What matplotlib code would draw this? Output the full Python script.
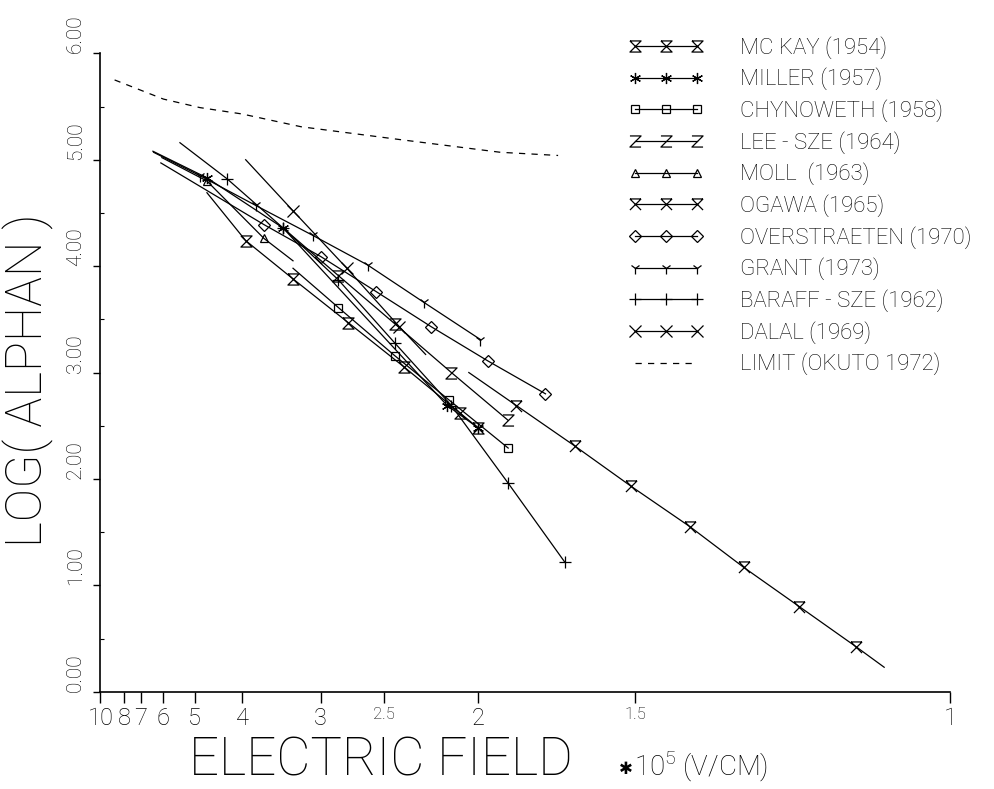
import numpy as np
import matplotlib
matplotlib.use("Agg")
import matplotlib.pyplot as plt
from matplotlib.path import Path

plt.rcParams['font.family'] = ['Roboto', 'DejaVu Sans']
plt.rcParams['font.weight'] = 'light'
plt.rcParams['mathtext.fontset'] = 'custom'
plt.rcParams['mathtext.rm'] = 'Roboto:light'

# field in 1e5 V/cm, log10 of ionization coefficient
mckay_E = [4.70, 3.94, 3.29, 2.76, 2.37, 2.08, 2.00]
mckay_log = [4.69, 4.24, 3.88, 3.47, 3.05, 2.62, 2.48]

miller_E = [6.43, 4.70, 3.41, 2.14, 2.00]
miller_log = [5.08, 4.83, 4.36, 2.69, 2.48]

chyn_E = [3.29, 2.84, 2.43, 2.13, 1.88]
chyn_log = [3.98, 3.61, 3.16, 2.74, 2.29]

leesze_E = [3.41, 2.84, 2.43, 2.12, 1.88]
leesze_log = [4.36, 3.91, 3.46, 3.00, 2.55]

moll_E = [6.06, 4.70, 3.66, 3.29]
moll_log = [5.02, 4.80, 4.26, 4.05]

ogawa_E = [2.04, 1.85, 1.66, 1.51, 1.38, 1.28, 1.19, 1.11, 1.075]
ogawa_log = [3.00, 2.69, 2.31, 1.93, 1.55, 1.17, 0.80, 0.42, 0.23]

overs_E = [6.10, 3.66, 3.00, 2.55, 2.22, 1.96, 1.75]
overs_log = [4.97, 4.39, 4.09, 3.76, 3.43, 3.11, 2.80]

grant_E = [6.40, 4.87, 3.78, 3.08, 2.61, 2.26, 1.99]
grant_log = [5.07, 4.85, 4.57, 4.29, 4.01, 3.66, 3.31]

baraff_E = [5.43, 4.27, 3.41, 2.84, 2.43, 2.12, 1.88, 1.69]
baraff_log = [5.16, 4.82, 4.36, 3.87, 3.28, 2.69, 1.96, 1.22]

dalal_E = [3.94, 3.29, 2.77, 2.40, 2.25]
dalal_log = [5.00, 4.52, 3.98, 3.43, 3.17]

limit_E = [8.7, 6.0, 4.87, 4.0, 3.2, 2.4, 1.91, 1.71]
limit_log = [5.75, 5.57, 5.49, 5.43, 5.31, 5.19, 5.07, 5.04]

tick_E = [10, 8, 7, 6, 5, 4, 3, 2.5, 2, 1.5, 1]
tick_text = ['10', '8', '7', '6', '5', '4', '3', '2.5', '2', '1.5', '1']
ytick_vals = [0, 1, 2, 3, 4, 5, 6]

# plotter style symbols
M, L = Path.MOVETO, Path.LINETO
hourglass = Path([(-1, 1), (1, 1), (-1, -1), (1, -1), (-1, 1)], [M, L, L, L, L])
zee = Path([(-1, 1), (1, 1), (-1, -1), (1, -1)], [M, L, L, L])
xbar = Path([(-1, 1), (1, 1), (-1, 1), (1, -1), (1, 1), (-1, -1)],
            [M, L, M, L, M, L])


def inv(e):
    return 1.0 / np.asarray(e, dtype=float)


fig = plt.figure(figsize=(9.95, 7.89), dpi=100)
ax = fig.add_axes([0.101, 0.1233, 0.8538, 0.8091])

series = [
    ('MC KAY (1954)', mckay_E, mckay_log, hourglass, slice(1, None)),
    ('MILLER (1957)', miller_E, miller_log, (6, 2, 0), slice(1, None)),
    ('CHYNOWETH (1958)', chyn_E, chyn_log, 's', slice(1, None)),
    ('LEE - SZE (1964)', leesze_E, leesze_log, zee, slice(1, None)),
    ('MOLL  (1963)', moll_E, moll_log, '^', slice(1, 3)),
    ('OGAWA (1965)', ogawa_E, ogawa_log, xbar, slice(1, -1)),
    ('OVERSTRAETEN (1970)', overs_E, overs_log, 'D', slice(1, None)),
    ('GRANT (1973)', grant_E, grant_log, '1', slice(1, None)),
    ('BARAFF - SZE (1962)', baraff_E, baraff_log, '+', slice(1, None)),
    ('DALAL (1969)', dalal_E, dalal_log, 'x', slice(1, 4)),
]

handles = []
for name, e, lg, mk, every in series:
    ms = 6 if mk in ('D', 's', '^') else 8
    h, = ax.plot(inv(e), lg, color='black', lw=0.9, marker=mk, ms=ms,
                 mfc='none', mec='black', mew=0.9, markevery=every, label=name)
    handles.append(h)

h, = ax.plot(inv(limit_E), limit_log, color='black', lw=0.9,
             dashes=(5, 5), label='LIMIT (OKUTO 1972)')
handles.append(h)

ax.set_xlim(0.1, 1.0)
ax.set_ylim(0, 6)
for s in ('top', 'right'):
    ax.spines[s].set_visible(False)
ax.spines['left'].set_linewidth(1.2)
ax.spines['bottom'].set_linewidth(1.2)

ax.set_xticks(inv(tick_E))
ax.set_xticklabels(tick_text)
for lab in ax.get_xticklabels():
    if '.' in lab.get_text():
        lab.set_fontsize(12)
    else:
        lab.set_fontsize(17)
ax.tick_params(axis='x', direction='out', length=8, width=1, pad=3)

ax.set_yticks(ytick_vals)
ax.set_yticklabels(['%.2f' % v for v in ytick_vals])
ax.set_yticks(np.arange(0.5, 6, 1.0), minor=True)
ax.tick_params(axis='y', which='major', direction='out', length=5,
               width=1, pad=13, labelsize=15)
ax.tick_params(axis='y', which='minor', direction='in', length=3, width=0.8)
for lab in ax.get_yticklabels():
    lab.set_rotation(90)
    lab.set_rotation_mode('anchor')
    lab.set_ha('left')
    lab.set_va('center')

fig.text(28 / 995, 1 - 380 / 789, 'LOG( ALPHAN )', rotation=90,
         ha='center', va='center', fontsize=36, fontweight=100)
fig.text(381 / 995, 1 - 761 / 789, 'ELECTRIC FIELD',
         ha='center', va='center', fontsize=38, fontweight=100)
fig.text(619 / 995, 1 - 769 / 789, '\u2731', family='DejaVu Sans',
         ha='left', va='center', fontsize=12, fontweight='normal')
fig.text(634 / 995, 1 - 766 / 789, '10$^{5}$ (V/CM)',
         ha='left', va='center', fontsize=20)

ax.legend(handles=handles, loc='upper left',
          bbox_to_anchor=(628 / 995, 1 - 36 / 789),
          bbox_transform=fig.transFigure, frameon=False, numpoints=3,
          handlelength=3.4, handletextpad=1.65, labelspacing=0.40,
          prop={'size': 16, 'weight': 'light'},
          borderpad=0, borderaxespad=0)

fig.savefig('out.png', dpi=100, facecolor='white')
